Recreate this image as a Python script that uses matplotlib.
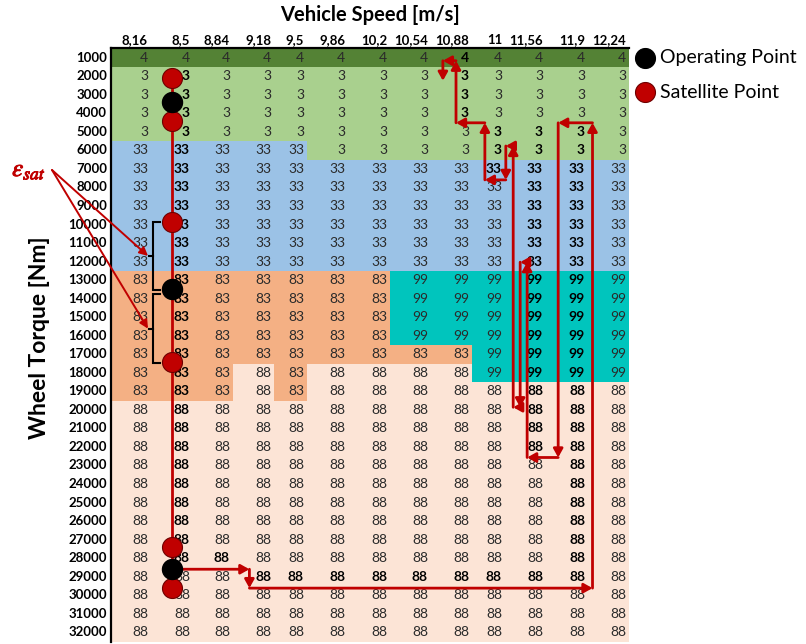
import numpy as np
import matplotlib.pyplot as plt
import matplotlib.patheffects as pe
from matplotlib.colors import ListedColormap, BoundaryNorm
from matplotlib.lines import Line2D
from matplotlib.transforms import blended_transform_factory

plt.rcParams["font.family"] = ["Lato", "DejaVu Sans"]
plt.rcParams["mathtext.fontset"] = "stix"

# ---- data -----------------------------------------------------------------
SPEEDS = ["8,16", "8,5", "8,84", "9,18", "9,5", "9,86", "10,2",
          "10,54", "10,88", "11", "11,56", "11,9", "12,24"]
TORQUES = [1000, 2000, 3000, 4000, 5000, 6000, 7000, 8000, 9000, 10000,
           11000, 12000, 13000, 14000, 15000, 16000, 17000, 18000, 19000,
           20000, 21000, 22000, 23000, 24000, 25000, 26000, 27000, 28000,
           29000, 30000, 31000, 32000]

# operating mode per (torque row, speed column)
CELLS = (
    [[4] * 13]
    + [[3] * 13] * 4
    + [[33] * 5 + [3] * 8]
    + [[33] * 13] * 6
    + [[83] * 7 + [99] * 6] * 4
    + [[83] * 9 + [99] * 4]
    + [[83, 83, 83, 88, 83, 88, 88, 88, 88, 99, 99, 99, 99]]
    + [[83, 83, 83, 88, 83, 88, 88, 88, 88, 88, 88, 88, 88]]
    + [[88] * 13] * 13
)
MODES = [4, 3, 33, 83, 99, 88]
MODE_COLORS = ["#548235", "#A9D08E", "#9BC2E6", "#F4B084", "#00C5BD", "#FCE4D6"]

# cells visited by the trajectory: (speed column, first torque, last torque)
BOLD_RUNS = [
    (1, 2000, 28000),
    (2, 28000, 28000),
    (3, 29000, 29000), (4, 29000, 29000), (5, 29000, 29000),
    (6, 29000, 29000), (7, 29000, 29000), (8, 29000, 29000),
    (9, 29000, 29000), (10, 29000, 29000),
    (11, 5000, 29000),
    (10, 5000, 22000),
    (9, 5000, 7000),
    (8, 1000, 4000),
]

POINT_COL = 1  # 8,5 m/s
OP_TORQUE = [3400, 13500, 28600]
SAT_TORQUE = [2100, 4400, 9850, 17400, 27400, 29600]
EPS_SPANS = [(9850, 13540), (13770, 17470)]

# trajectory waypoints (fractional speed column, torque)
PATH_COL = [1.5, 3.40, 3.40, 12.11, 12.11, 11.29, 11.29, 10.54, 10.54,
            10.37, 10.37, 10.20, 10.20, 10.02, 10.02, 9.39, 9.39, 8.61,
            8.61, 8.29, 8.29]
PATH_TORQUE = [28600, 28600, 29620, 29620, 4510, 4510, 22570, 22570,
               12030, 12030, 19860, 19860, 5760, 5760, 7590, 7590, 4510,
               4510, 1160, 1160, 2240]

# ---- layout ---------------------------------------------------------------
W, H = 806, 644
COL_W = [40, 42, 40, 41, 33, 41, 42, 41, 41, 33, 41, 42, 41]
GRID_LEFT, GRID_TOP, GRID_BOTTOM = 111, 48.5, 641.5
RED = "#C00000"

edges = np.concatenate([[0], np.cumsum(COL_W)])
col_x = lambda c: np.interp(c, np.arange(len(edges)), edges)

fig = plt.figure(figsize=(W / 100, H / 100), dpi=100)
ax = fig.add_axes([GRID_LEFT / W, 1 - GRID_BOTTOM / H,
                   edges[-1] / W, (GRID_BOTTOM - GRID_TOP) / H])

torques = np.array(TORQUES)
y_edges = np.concatenate([torques - 500, [torques[-1] + 500]])
idx = np.vectorize(MODES.index)(np.array(CELLS))
ax.pcolormesh(edges, y_edges, idx, cmap=ListedColormap(MODE_COLORS),
              norm=BoundaryNorm(np.arange(-0.5, len(MODES)), len(MODES)))
ax.set_xlim(0, edges[-1])
ax.set_ylim(torques[-1] + 500, torques[0] - 500)
ax.set_xticks([])
ax.set_yticks([])
for side in ("right", "bottom"):
    ax.spines[side].set_visible(False)
for side in ("top", "left"):
    ax.spines[side].set_linewidth(1.6)

bold = np.zeros(idx.shape, dtype=bool)
for c, t0, t1 in BOLD_RUNS:
    bold[(torques >= t0) & (torques <= t1), c] = True

for i, t in enumerate(TORQUES):
    for j, v in enumerate(CELLS[i]):
        ax.text(edges[j + 1] - 3, t, str(v), ha="right", va="center",
                fontsize=10, color="black" if bold[i, j] else "#2a2a2a",
                fontweight="bold" if bold[i, j] else "normal")

# axis labels
col_tr = blended_transform_factory(ax.transData, fig.transFigure)
for j, s in enumerate(SPEEDS):
    ax.text(edges[j + 1] - 3, 1 - 40 / H, s, transform=col_tr, ha="right",
            va="center", fontsize=9.5, fontweight="bold")
row_tr = blended_transform_factory(fig.transFigure, ax.transData)
for t in TORQUES:
    ax.text(107 / W, t, str(t), transform=row_tr, ha="right", va="center",
            fontsize=9.5, fontweight="bold")
fig.text(370 / W, 1 - 15 / H, "Vehicle Speed [m/s]", ha="center",
         va="center", fontsize=14.5, fontweight="bold")
fig.text(40 / W, 1 - 338 / H, "Wheel Torque [Nm]", ha="center",
         va="center", rotation=90, fontsize=16.5, fontweight="bold")

# operating / satellite points on the 8,5 m/s column
xp = col_x(POINT_COL + 0.5)
ax.plot([xp, xp], [SAT_TORQUE[0], SAT_TORQUE[-1]], color=RED, lw=2, zorder=4)
ax.plot([xp] * len(SAT_TORQUE), SAT_TORQUE, "o", ms=14.4, mfc=RED,
        mec="#6e0000", mew=0.8, zorder=6)
ax.plot([xp] * len(OP_TORQUE), OP_TORQUE, "o", ms=14.4, mfc="black",
        mec="black", zorder=6)

# trajectory, one arrow per leg
px, py = col_x(PATH_COL), PATH_TORQUE
for k in range(1, len(px)):
    ax.annotate("", xy=(px[k], py[k]), xytext=(px[k - 1], py[k - 1]),
                arrowprops=dict(arrowstyle="-|>,head_length=0.5,head_width=0.28",
                                color=RED, lw=2, shrinkA=0, shrinkB=0),
                zorder=5)

# epsilon_sat braces
xv = edges[1] + 2
for top, bot in EPS_SPANS:
    mid = (top + bot) / 2
    ax.plot([xv + 7, xv, xv, xv + 7], [top, top, bot, bot], color="black",
            lw=1.5, zorder=5, solid_joinstyle="miter")
    ax.plot([xv, xv - 4], [mid, mid], color="black", lw=1.5, zorder=5)
    ax.annotate("", xy=(edges[1] - 3, mid), xycoords="data",
                xytext=(52 / W, 1 - 170 / H), textcoords="figure fraction",
                arrowprops=dict(arrowstyle="-|>,head_length=0.5,head_width=0.25",
                                color=RED, lw=1.4, shrinkA=0, shrinkB=0),
                annotation_clip=False, zorder=5)
eps = fig.text(29 / W, 1 - 170 / H, r"$\varepsilon_{sat}$", ha="center",
               va="center", fontsize=18, color=RED)
eps.set_path_effects([pe.withStroke(linewidth=0.7, foreground=RED)])

# legend
for k, (label, fc) in enumerate([("Operating Point", "black"),
                                 ("Satellite Point", RED)]):
    y = 1 - (58 + 34 * k) / H
    fig.add_artist(Line2D([645 / W], [y], marker="o", ms=14.4, mfc=fc,
                          mec="#6e0000" if fc == RED else "black", mew=0.8,
                          ls="", transform=fig.transFigure))
    fig.text(660 / W, y, label, ha="left", va="center", fontsize=14)

fig.savefig("out.png", dpi=100)
